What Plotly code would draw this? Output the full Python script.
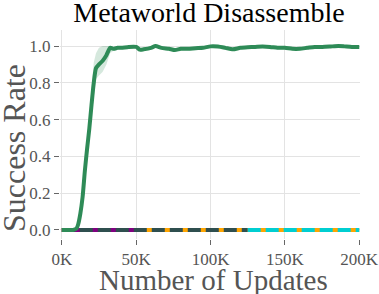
import plotly.graph_objects as go

# Green run (success rate vs updates, in thousands)
green_x = [0, 2.5, 5, 7.5, 9, 10, 11, 12.5, 14, 15.5, 17, 18.5, 20, 21.5, 23, 25, 27.5, 30, 32.5, 35,
           37.5, 40, 45, 50, 52.5, 55, 60, 63, 67, 72, 76, 80, 85, 90, 95, 100, 105, 110, 115, 120,
           125, 130, 135, 140, 145, 150, 155, 160, 165, 170, 175, 180, 186, 190, 195, 200]
green_y = [0, 0, 0, 0, 0.004, 0.01, 0.03, 0.09, 0.18, 0.32, 0.44, 0.55, 0.68, 0.80, 0.88, 0.90, 0.92, 0.95, 0.99, 0.985,
           0.99, 0.99, 0.995, 0.995, 0.98, 0.982, 0.99, 1.0, 0.99, 0.985, 0.978, 0.985, 0.985, 0.988, 0.99, 0.998, 0.997, 0.99, 0.982, 0.99,
           0.993, 0.995, 0.997, 0.995, 0.99, 0.99, 0.985, 0.985, 0.99, 0.995, 0.995, 0.997, 1.0, 0.998, 0.995, 0.995]
green_hi = [0, 0, 0, 0, 0.006, 0.014, 0.036, 0.1, 0.2, 0.34, 0.47, 0.6, 0.78, 0.91, 0.96, 0.99, 1.0, 1.0, 1.0, 0.995,
            0.998, 0.998, 1.0, 1.0, 0.99, 0.99, 0.998, 1.0, 0.998, 0.993, 0.988, 0.993, 0.993, 0.996, 0.998, 1.0, 1.0, 0.998, 0.99, 0.998,
            1.0, 1.0, 1.0, 1.0, 0.998, 0.998, 0.995, 0.995, 0.998, 1.0, 1.0, 1.0, 1.0, 1.0, 1.0, 1.0]
green_lo = [0, 0, 0, 0, 0.002, 0.006, 0.024, 0.08, 0.16, 0.30, 0.41, 0.5, 0.62, 0.72, 0.82, 0.84, 0.86, 0.90, 0.96, 0.975,
            0.982, 0.982, 0.988, 0.988, 0.97, 0.974, 0.982, 0.992, 0.982, 0.977, 0.97, 0.977, 0.977, 0.98, 0.982, 0.99, 0.99, 0.982, 0.974, 0.982,
            0.985, 0.987, 0.99, 0.987, 0.982, 0.982, 0.977, 0.977, 0.982, 0.987, 0.987, 0.99, 0.992, 0.99, 0.987, 0.987]

# Runs that stay at zero (start, end in thousands of updates)
purple_x = [0, 50]
purple_y = [0, 0]
orange_x = [0, 200]
orange_y = [0, 0]
slate_x = [0, 125]
slate_y = [0, 0]
cyan_x = [125, 200]
cyan_y = [0, 0]

x_ticks = [0, 50, 100, 150, 200]
x_tick_labels = ["0K", "50K", "100K", "150K", "200K"]
y_ticks = [0.0, 0.2, 0.4, 0.6, 0.8, 1.0]
y_tick_labels = ["0.0", "0.2", "0.4", "0.6", "0.8", "1.0"]

fig = go.Figure()

fig.add_trace(go.Scatter(x=orange_x, y=orange_y, mode="lines",
                         line=dict(color="#FFA500", width=4), showlegend=False))
fig.add_trace(go.Scatter(x=purple_x, y=purple_y, mode="lines",
                         line=dict(color="#800080", width=4), showlegend=False))
fig.add_trace(go.Scatter(x=slate_x, y=slate_y, mode="lines",
                         line=dict(color="#2F4F4F", width=4, dash="13px,5px"), showlegend=False))
fig.add_trace(go.Scatter(x=cyan_x, y=cyan_y, mode="lines",
                         line=dict(color="#00CED1", width=4, dash="13px,5px"), showlegend=False))

fig.add_trace(go.Scatter(x=green_x + green_x[::-1], y=green_hi + green_lo[::-1],
                         fill="toself", fillcolor="rgba(46,139,87,0.2)",
                         line=dict(width=0), mode="lines", hoverinfo="skip", showlegend=False))
fig.add_trace(go.Scatter(x=green_x, y=green_y, mode="lines",
                         line=dict(color="#2E8B57", width=4, shape="spline", smoothing=0.6),
                         showlegend=False))

serif = "Liberation Serif"
fig.update_layout(
    width=379, height=294,
    margin=dict(l=60, r=19, t=30, b=55, autoexpand=False),
    plot_bgcolor="white", paper_bgcolor="white",
    title=dict(text="Metaworld Disassemble", x=209 / 379, xref="container", xanchor="center",
               y=1 - 12 / 294, yref="container", yanchor="middle",
               font=dict(family=serif, size=28, color="black")),
    font=dict(family=serif),
    annotations=[
        dict(text="Number of Updates", xref="paper", yref="paper", x=0.5, y=(239 - 280) / 209,
             xanchor="center", yanchor="middle", xshift=3, showarrow=False,
             font=dict(family=serif, size=29, color="#555")),
        dict(text="Success Rate", xref="paper", yref="paper", x=0, y=(239 - 148) / 209,
             xanchor="center", yanchor="middle", xshift=-46, textangle=-90, showarrow=False,
             font=dict(family=serif, size=32, color="#555")),
    ],
)
fig.update_xaxes(
    range=[-1.2, 200.5], tickvals=x_ticks, ticktext=x_tick_labels, automargin=False,
    showgrid=True, gridcolor="#e3e3e3", gridwidth=1, zeroline=False, showline=False,
    ticks="outside", ticklen=5, tickcolor="#666", tickwidth=1,
    tickfont=dict(family=serif, size=17, color="#555"),
)
fig.update_yaxes(
    range=[-0.049, 1.087], tickvals=y_ticks, ticktext=y_tick_labels, automargin=False,
    showgrid=True, gridcolor="#e3e3e3", gridwidth=1, zeroline=False, showline=False,
    ticks="outside", ticklen=5, tickcolor="#666", tickwidth=1,
    tickfont=dict(family=serif, size=17, color="#555"),
)

fig.write_html("out.html", config={"displayModeBar": False},
               post_script="document.body.style.margin='0';")
